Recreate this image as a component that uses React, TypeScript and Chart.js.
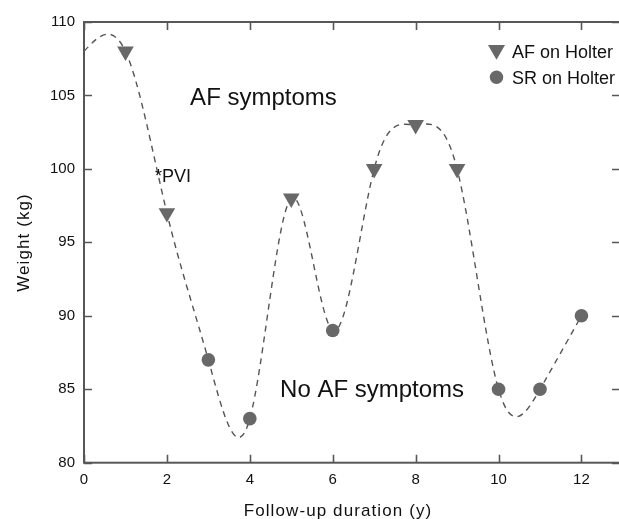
import React, { useEffect, useRef } from 'react';
import { Chart, registerables } from 'chart.js';

Chart.register(...registerables);

// ---- data ----
const afX = [1, 2, 5, 7, 8, 9];
const afY = [108, 97, 98, 100, 103, 100];
const srX = [3, 4, 6, 10, 11, 12];
const srY = [87, 83, 89, 85, 85, 90];
const trendX = [0, 1, 2, 3, 4, 5, 6, 7, 8, 9, 10, 11, 12];
const trendY = [108, 108, 97, 87, 83, 98, 89, 100, 103, 100, 85, 85, 90];
const xTicks = [0, 2, 4, 6, 8, 10, 12];
const yTicks = [80, 85, 90, 95, 100, 105, 110];
const seriesLabels = ['AF on Holter', 'SR on Holter'];
const xTitle = 'Follow-up duration (y)';
const yTitle = 'Weight (kg)';
const noteAF = 'AF symptoms';
const noteNoAF = 'No AF symptoms';
const notePVI = '*PVI';

const FONT = "'Liberation Sans', Arial, Helvetica, sans-serif";
const MARK = '#686868';
const AXIS = '#575757';

function triangleDown(ctx: CanvasRenderingContext2D, cx: number, cy: number, r: number) {
  const s = Math.sin(Math.PI / 3) * r;
  ctx.beginPath();
  ctx.moveTo(cx, cy + r);
  ctx.lineTo(cx - s, cy - r / 2);
  ctx.lineTo(cx + s, cy - r / 2);
  ctx.closePath();
  ctx.fill();
}

// natural cubic spline interpolation mode for the trend line
// (sets the bezier control points of the library's own line points)
const naturalSpline = {
  id: 'naturalSpline',
  beforeDatasetDraw(chart: any, args: any) {
    if (args.index !== 0) return;
    const meta = args.meta;
    const line = meta.dataset;
    if (!line) return;
    line.updateControlPoints(chart.chartArea, 'x');
    const pts = meta.data;
    const n = pts.length - 1;
    if (n < 2) return;
    const X = pts.map((p: any) => p.x);
    const Y = pts.map((p: any) => p.y);
    const h: number[] = [];
    for (let i = 0; i < n; i++) h.push(X[i + 1] - X[i]);
    const M = new Array(n + 1).fill(0);
    const a: number[] = [], b: number[] = [], c: number[] = [], d: number[] = [];
    for (let i = 1; i < n; i++) {
      a.push(h[i - 1]);
      b.push(2 * (h[i - 1] + h[i]));
      c.push(h[i]);
      d.push(6 * ((Y[i + 1] - Y[i]) / h[i] - (Y[i] - Y[i - 1]) / h[i - 1]));
    }
    const m = b.length;
    for (let i = 1; i < m; i++) {
      const w = a[i] / b[i - 1];
      b[i] -= w * c[i - 1];
      d[i] -= w * d[i - 1];
    }
    const sol = new Array(m).fill(0);
    sol[m - 1] = d[m - 1] / b[m - 1];
    for (let i = m - 2; i >= 0; i--) sol[i] = (d[i] - c[i] * sol[i + 1]) / b[i];
    for (let i = 1; i < n; i++) M[i] = sol[i - 1];
    const D: number[] = [];
    for (let i = 0; i < n; i++) D.push((Y[i + 1] - Y[i]) / h[i] - (h[i] * (2 * M[i] + M[i + 1])) / 6);
    D.push((Y[n] - Y[n - 1]) / h[n - 1] + (h[n - 1] * (M[n - 1] + 2 * M[n])) / 6);
    for (let i = 0; i <= n; i++) {
      const p = pts[i];
      const hl = i > 0 ? h[i - 1] : 0;
      const hr = i < n ? h[i] : 0;
      p.cp1x = X[i] - hl / 3;
      p.cp1y = Y[i] - (D[i] * hl) / 3;
      p.cp2x = X[i] + hr / 3;
      p.cp2y = Y[i] + (D[i] * hr) / 3;
    }
    line._path = undefined;
  },
};

const framePlugin = {
  id: 'framePlugin',
  afterDraw(chart: any) {
    const { ctx, chartArea: a, scales } = chart;
    const xs = scales.x;
    const ys = scales.y;
    ctx.save();
    // box
    ctx.strokeStyle = AXIS;
    ctx.lineWidth = 2;
    ctx.strokeRect(a.left, a.top, a.right - a.left, a.bottom - a.top);
    // inward ticks
    ctx.lineWidth = 1.6;
    ctx.beginPath();
    xTicks.forEach((v) => {
      const p = Math.round(xs.getPixelForValue(v)) + 0.5;
      ctx.moveTo(p, a.bottom);
      ctx.lineTo(p, a.bottom - 8);
      ctx.moveTo(p, a.top);
      ctx.lineTo(p, a.top + 8);
    });
    yTicks.forEach((v) => {
      const p = Math.round(ys.getPixelForValue(v)) + 0.5;
      ctx.moveTo(a.left, p);
      ctx.lineTo(a.left + 8, p);
      ctx.moveTo(a.right, p);
      ctx.lineTo(a.right - 8, p);
    });
    ctx.stroke();

    // legend
    ctx.fillStyle = MARK;
    triangleDown(ctx, 496.5, 50, 9.8);
    ctx.beginPath();
    ctx.arc(496.5, 77.3, 6.7, 0, Math.PI * 2);
    ctx.fill();
    ctx.fillStyle = '#111';
    ctx.font = `18px ${FONT}`;
    ctx.textAlign = 'left';
    ctx.textBaseline = 'alphabetic';
    ctx.fillText(seriesLabels[0], 512, 58.3);
    ctx.fillText(seriesLabels[1], 512, 84);

    // annotations
    ctx.font = `24px ${FONT}`;
    ctx.fillText(noteAF, xs.getPixelForValue(2.56), ys.getPixelForValue(104.34));
    ctx.fillText(noteNoAF, xs.getPixelForValue(4.73), ys.getPixelForValue(84.46));
    ctx.font = `18px ${FONT}`;
    ctx.fillText(notePVI, xs.getPixelForValue(1.71), ys.getPixelForValue(99.11));

    // axis titles
    ctx.font = `17px ${FONT}`;
    (ctx as any).letterSpacing = '1.1px';
    ctx.textAlign = 'center';
    ctx.fillText(xTitle, 338, 516);
    ctx.translate(29, 242.5);
    ctx.rotate(-Math.PI / 2);
    ctx.fillText(yTitle, 0, 0);
    ctx.restore();
  },
};

export default function App() {
  const ref = useRef<HTMLCanvasElement | null>(null);

  useEffect(() => {
    if (!ref.current) return;
    const chart = new Chart(ref.current, {
      type: 'scatter',
      data: {
        datasets: [
          {
            type: 'line',
            label: 'trend',
            data: trendX.map((x, i) => ({ x, y: trendY[i] })),
            borderColor: '#555',
            borderWidth: 1.4,
            borderDash: [6, 5],
            pointRadius: 0,
            tension: 0.4,
            fill: false,
            order: 3,
          } as any,
          {
            label: seriesLabels[0],
            data: afX.map((x, i) => ({ x, y: afY[i] })),
            pointStyle: 'triangle',
            rotation: 180,
            pointRadius: 9.6,
            pointBackgroundColor: MARK,
            pointBorderWidth: 0,
            borderWidth: 0,
            order: 1,
          },
          {
            label: seriesLabels[1],
            data: srX.map((x, i) => ({ x, y: srY[i] })),
            pointStyle: 'circle',
            pointRadius: 6.8,
            pointBackgroundColor: MARK,
            pointBorderWidth: 0,
            borderWidth: 0,
            order: 2,
          },
        ],
      },
      options: {
        responsive: false,
        animation: false,
        layout: { autoPadding: false, padding: { top: 22, right: 2, left: 0, bottom: 0 } },
        plugins: {
          legend: { display: false },
          tooltip: { enabled: false },
        },
        scales: {
          x: {
            type: 'linear',
            min: 0,
            max: 12.93,
            afterBuildTicks: (s: any) => {
              s.ticks = xTicks.map((v) => ({ value: v }));
            },
            afterFit: (s: any) => {
              s.height = 56.3;
              s.paddingLeft = 0;
              s.paddingRight = 0;
            },
            grid: { display: false, drawTicks: false },
            border: { display: false },
            ticks: {
              padding: 8,
              color: '#111',
              font: { family: FONT, size: 15 },
              maxRotation: 0,
            },
          },
          y: {
            type: 'linear',
            min: 80,
            max: 110,
            afterBuildTicks: (s: any) => {
              s.ticks = yTicks.map((v) => ({ value: v }));
            },
            afterFit: (s: any) => {
              s.width = 84;
            },
            grid: { display: false, drawTicks: false },
            border: { display: false },
            ticks: {
              padding: 9,
              color: '#111',
              font: { family: FONT, size: 15 },
            },
          },
        },
      },
      plugins: [naturalSpline, framePlugin],
    });
    return () => chart.destroy();
  }, []);

  return (
    <div
      style={{
        position: 'fixed',
        left: 0,
        top: 0,
        width: 619,
        height: 519,
        overflow: 'hidden',
        background: '#fff',
      }}
    >
      <canvas ref={ref} width={622} height={519} style={{ width: 622, height: 519, display: 'block' }} />
    </div>
  );
}
